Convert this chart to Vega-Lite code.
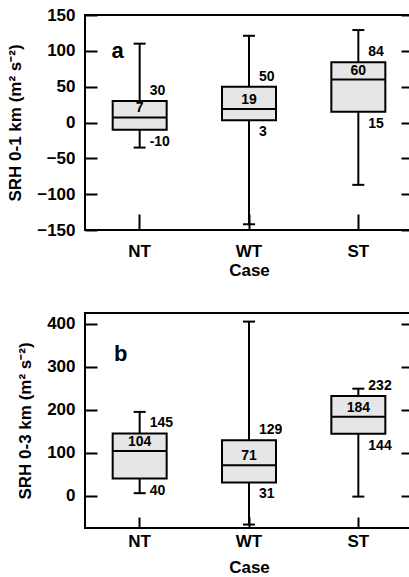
{
  "$schema": "https://vega.github.io/schema/vega-lite/v6.json",
  "background": "white",
  "padding": {"left": 5, "top": 5, "right": 0, "bottom": 0},
  "config": {
    "font": "Liberation Sans",
    "view": {"stroke": "black", "strokeWidth": 2},
    "axis": {
      "labelFont": "Liberation Sans", "labelFontSize": 17, "labelFontWeight": "bold", "labelColor": "black",
      "titleFont": "Liberation Sans", "titleFontSize": 17, "titleFontWeight": "bold", "titleColor": "black",
      "grid": false, "domain": false, "tickColor": "black", "tickWidth": 2
    },
    "text": {"font": "Liberation Sans", "fontWeight": "bold", "fontSize": 14, "color": "black"},
    "tick": {"opacity": 1}
  },
  "spacing": 33,
  "vconcat": [
    {
      "width": 328, "height": 215,
      "data": {"values": [
        {"case": "NT", "lo": -35, "q1": -10, "med": 7, "q3": 30, "hi": 110},
        {"case": "WT", "lo": -142, "q1": 3, "med": 19, "q3": 50, "hi": 121},
        {"case": "ST", "lo": -87, "q1": 15, "med": 60, "q3": 84, "hi": 129}
      ]},
      "encoding": {
        "x": {"field": "case", "type": "nominal", "sort": ["NT", "WT", "ST"], "scale": {"padding": 0},
              "axis": {"title": "Case", "labelAngle": 0, "tickSize": -16, "tickBand": "center", "labelPadding": 29, "titlePadding": 3}}
      },
      "layer": [
        {"mark": {"type": "rule", "strokeWidth": 2, "color": "black"},
         "encoding": {"y": {"field": "lo", "type": "quantitative", "scale": {"domain": [-150, 150], "nice": false},
                            "axis": {"orient": "left", "values": [-150, -100, -50, 0, 50, 100, 150], "tickSize": -12, "labelPadding": 22, "title": "SRH 0-1 km (m² s⁻²)", "titlePadding": 12}},
                      "y2": {"field": "hi"}}},
        {"mark": {"type": "tick", "size": 12, "thickness": 2, "color": "black", "opacity": 1},
         "encoding": {"y": {"field": "lo", "type": "quantitative",
                            "axis": {"orient": "right", "values": [-150, -100, -50, 0, 50, 100, 150], "tickSize": -12, "labels": false, "title": null}}}},
        {"mark": {"type": "tick", "size": 12, "thickness": 2, "color": "black", "opacity": 1},
         "encoding": {"y": {"field": "hi", "type": "quantitative", "axis": null}}},
        {"mark": {"type": "bar", "size": 54, "fill": "#e6e6e6", "stroke": "black", "strokeWidth": 2, "opacity": 1},
         "encoding": {"y": {"field": "q1", "type": "quantitative", "axis": null}, "y2": {"field": "q3"}}},
        {"mark": {"type": "tick", "size": 54, "thickness": 2, "color": "black", "opacity": 1},
         "encoding": {"y": {"field": "med", "type": "quantitative", "axis": null}}},
        {"mark": {"type": "text", "baseline": "bottom", "dy": -2},
         "encoding": {"y": {"field": "med", "type": "quantitative", "axis": null}, "text": {"field": "med"}}},
        {"mark": {"type": "text", "baseline": "middle", "align": "left", "dx": 10, "dy": -10},
         "encoding": {"y": {"field": "q3", "type": "quantitative", "axis": null}, "text": {"field": "q3"}}},
        {"mark": {"type": "text", "baseline": "middle", "align": "left", "dx": 10, "dy": 12},
         "encoding": {"y": {"field": "q1", "type": "quantitative", "axis": null}, "text": {"field": "q1"}}},
        {"data": {"values": [{"case": "NT", "v": 100, "t": "a"}]},
         "mark": {"type": "text", "baseline": "middle", "align": "center", "dx": -22, "fontSize": 22},
         "encoding": {"y": {"field": "v", "type": "quantitative", "axis": null}, "text": {"field": "t"}}}
      ],
      "resolve": {"axis": {"y": "independent"}}
    },
    {
      "width": 328, "height": 215,
      "data": {"values": [
        {"case": "NT", "lo": 6, "q1": 40, "med": 104, "q3": 145, "hi": 195},
        {"case": "WT", "lo": -67, "q1": 31, "med": 71, "q3": 129, "hi": 405},
        {"case": "ST", "lo": -2, "q1": 144, "med": 184, "q3": 232, "hi": 249}
      ]},
      "encoding": {
        "x": {"field": "case", "type": "nominal", "sort": ["NT", "WT", "ST"], "scale": {"padding": 0},
              "axis": {"title": "Case", "labelAngle": 0, "tickSize": -11, "tickBand": "center", "labelPadding": 16, "titlePadding": 10}}
      },
      "layer": [
        {"mark": {"type": "rule", "strokeWidth": 2, "color": "black"},
         "encoding": {"y": {"field": "lo", "type": "quantitative", "scale": {"domain": [-75, 425], "nice": false},
                            "axis": {"orient": "left", "values": [0, 100, 200, 300, 400], "tickSize": -12, "labelPadding": 22, "title": "SRH 0-3 km (m² s⁻²)", "titlePadding": 12}},
                      "y2": {"field": "hi"}}},
        {"mark": {"type": "tick", "size": 12, "thickness": 2, "color": "black", "opacity": 1},
         "encoding": {"y": {"field": "lo", "type": "quantitative",
                            "axis": {"orient": "right", "values": [0, 100, 200, 300, 400], "tickSize": -12, "labels": false, "title": null}}}},
        {"mark": {"type": "tick", "size": 12, "thickness": 2, "color": "black", "opacity": 1},
         "encoding": {"y": {"field": "hi", "type": "quantitative", "axis": null}}},
        {"mark": {"type": "bar", "size": 54, "fill": "#e6e6e6", "stroke": "black", "strokeWidth": 2, "opacity": 1},
         "encoding": {"y": {"field": "q1", "type": "quantitative", "axis": null}, "y2": {"field": "q3"}}},
        {"mark": {"type": "tick", "size": 54, "thickness": 2, "color": "black", "opacity": 1},
         "encoding": {"y": {"field": "med", "type": "quantitative", "axis": null}}},
        {"mark": {"type": "text", "baseline": "bottom", "dy": -2},
         "encoding": {"y": {"field": "med", "type": "quantitative", "axis": null}, "text": {"field": "med"}}},
        {"mark": {"type": "text", "baseline": "middle", "align": "left", "dx": 10, "dy": -10},
         "encoding": {"y": {"field": "q3", "type": "quantitative", "axis": null}, "text": {"field": "q3"}}},
        {"mark": {"type": "text", "baseline": "middle", "align": "left", "dx": 10, "dy": 12},
         "encoding": {"y": {"field": "q1", "type": "quantitative", "axis": null}, "text": {"field": "q1"}}},
        {"data": {"values": [{"case": "NT", "v": 330, "t": "b"}]},
         "mark": {"type": "text", "baseline": "middle", "align": "center", "dx": -19, "fontSize": 22},
         "encoding": {"y": {"field": "v", "type": "quantitative", "axis": null}, "text": {"field": "t"}}}
      ],
      "resolve": {"axis": {"y": "independent"}}
    }
  ]
}
